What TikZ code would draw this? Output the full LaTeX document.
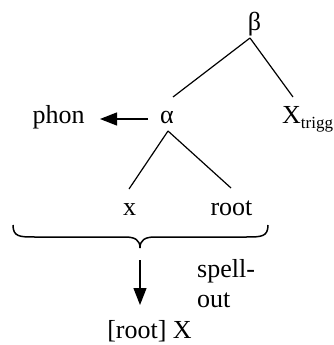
\documentclass[tikz,border=0pt]{standalone}
\usepackage{fontspec}
\setmainfont{Liberation Serif}
\usetikzlibrary{arrows.meta}
\begin{document}
\begin{tikzpicture}[x=1pt,y=-1pt,
  lbl/.style={inner sep=0pt,anchor=base,font=\fontsize{26}{30}\selectfont},
  edge/.style={line width=1.2pt},
  bracestyle/.style={line width=1.5pt},
  bigarrow/.style={line width=1.3pt,-{Triangle[length=17pt,width=13pt]}}]
\useasboundingbox (0,0) rectangle (334,345);
% nodes
\node[lbl] (beta) at (254.5,31) {β};
\node[lbl] (alpha) at (167,123) {α};
\node[lbl] (phon) at (58.5,123) {phon};
\node[lbl,anchor=base west] (xtrigg) at (282,123) {X\raisebox{-5pt}{\fontsize{17}{17}\selectfont trigg}};
\node[lbl] (x) at (129.5,215) {x};
\node[lbl] (root) at (231.5,215) {root};
\node[lbl,anchor=base west] (spell) at (197,277) {spell-};
\node[lbl,anchor=base west] (out) at (197,307) {out};
\node[lbl] (res) at (149.5,338) {[root] X};
% connector endpoints
\coordinate (bTop) at (250,38);
\coordinate (aBot) at (168,131);
\coordinate (aTop) at (173,97);
\coordinate (xtTop) at (293,97);
\coordinate (xTop) at (129,189);
\coordinate (rTop) at (231,188);
\coordinate (arS) at (148,119);
\coordinate (arE) at (100,119);
\coordinate (dS) at (140,260);
\coordinate (dE) at (140,305);
% tree
\draw[edge] (bTop) -- (aTop);
\draw[edge] (bTop) -- (xtTop);
\draw[edge] (aBot) -- (xTop);
\draw[edge] (aBot) -- (rTop);
% arrows
\draw[bigarrow] (arS) -- (arE);
\draw[bigarrow] (dS) -- (dE);
% brace
\draw[bracestyle] (13,225) .. controls (13,237) and (20,237) .. (35,237) -- (125,237)
  .. controls (135,237) and (140,240) .. (140,248)
  .. controls (140,240) and (145,237) .. (155,237) -- (246,237)
  .. controls (261,237) and (268,237) .. (268,225);
\end{tikzpicture}
\end{document}
